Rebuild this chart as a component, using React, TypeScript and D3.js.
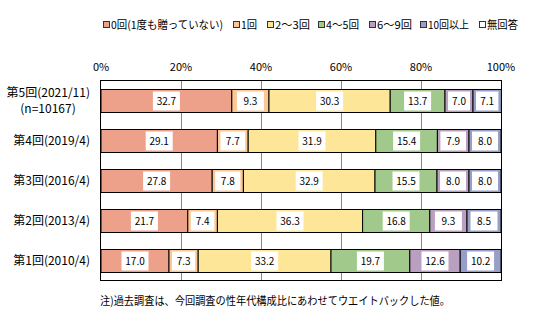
import React from "react";
import * as d3 from "d3";

const categories = ["第5回(2021/11)", "第4回(2019/4)", "第3回(2016/4)", "第2回(2013/4)", "第1回(2010/4)"];
const subLabels = ["(n=10167)", "", "", "", ""];
const seriesNames = ["0回(1度も贈っていない)", "1回", "2～3回", "4～5回", "6～9回", "10回以上", "無回答"];
const seriesColors = ["#EDA18B", "#FAC795", "#FEE698", "#A1C98B", "#BA9FC0", "#979FC9", "#FFFFFF"];
const s0 = [32.7, 29.1, 27.8, 21.7, 17.0];
const s1 = [9.3, 7.7, 7.8, 7.4, 7.3];
const s2 = [30.3, 31.9, 32.9, 36.3, 33.2];
const s3 = [13.7, 15.4, 15.5, 16.8, 19.7];
const s4 = [7.0, 7.9, 8.0, 9.3, 12.6];
const s5 = [7.1, 8.0, 8.0, 8.5, 10.2];
const s6 = [0, 0, 0, 0, 0];
const seriesValues = [s0, s1, s2, s3, s4, s5, s6];
const ticks = [0, 20, 40, 60, 80, 100];
const note = "注)過去調査は、今回調査の性年代構成比にあわせてウエイトバックした値。";

const legendX = [103, 233, 267, 318, 369, 420, 479];
const legendLen = [112, 16, 35, 33, 35, 41, 31];

const FONT = "'Noto Sans CJK JP', 'DejaVu Sans', sans-serif";

export default function App() {
  const W = 547, H = 336;
  const x = d3.scaleLinear().domain([0, 100]).range([101, 501]);
  const y = d3.scaleBand().domain(categories).range([80, 280]).paddingInner(0).paddingOuter(0);
  const barH = 23;

  const rows = categories.map((c, i) => {
    let acc = 0;
    return seriesValues.map((vals, k) => {
      const v = vals[i];
      const start = acc;
      acc += v;
      return { k, v, start, end: acc };
    });
  });

  return (
    <svg width={W} height={H} style={{ display: "block", position: "absolute", left: 0, top: 0 }} fontFamily={FONT}>
      <rect x={0} y={0} width={W} height={H} fill="#fff" />
      {/* legend */}
      {seriesNames.map((n, k) => (
        <g key={n}>
          <rect x={legendX[k] + 0.5} y={21.5} width={6} height={6} fill={seriesColors[k]} stroke="#333" strokeWidth={1} />
          <text x={legendX[k] + 8} y={28.5} fontSize={11} fill="#000" textLength={legendLen[k]} lengthAdjust="spacingAndGlyphs">{n}</text>
        </g>
      ))}
      {/* tick labels */}
      {ticks.map(t => (
        <text key={t} x={x(t)} y={71} fontSize={11} textAnchor="middle" fill="#000">{t}%</text>
      ))}
      {/* gridlines */}
      {ticks.slice(1, -1).map(t => (
        <line key={t} x1={Math.round(x(t)) + 0.5} x2={Math.round(x(t)) + 0.5} y1={80} y2={280} stroke="#888" strokeWidth={1} />
      ))}
      {/* bars */}
      {categories.map((c, i) => {
        const cy = (y(c) as number) + y.bandwidth() / 2;
        const top = Math.round(cy - barH / 2) + 0.5;
        return (
          <g key={c}>
            {rows[i].map(seg => {
              if (seg.v <= 0) return null;
              const x0 = x(seg.start), x1 = x(seg.end);
              const sw = x1 - x0;
              const bw = Math.min(27, sw - 6);
              return (
                <g key={seg.k}>
                  <rect x={x0} y={top} width={sw} height={barH} fill={seriesColors[seg.k]} stroke="#000" strokeWidth={1} />
                  <rect x={(x0 + x1) / 2 - bw / 2} y={top + 2} width={bw} height={barH - 4} fill="#fff" />
                  <text x={(x0 + x1) / 2} y={top + barH / 2 + 4} fontSize={10} textAnchor="middle" fill="#000">{seg.v.toFixed(1)}</text>
                </g>
              );
            })}
          </g>
        );
      })}
      {/* category labels */}
      {categories.map((c, i) => {
        const cy = (y(c) as number) + y.bandwidth() / 2;
        if (subLabels[i]) {
          return (
            <g key={c}>
              <text x={90} y={cy - 3} fontSize={12} textAnchor="end" fill="#000">{c}</text>
              <text x={48} y={cy + 13} fontSize={12} textAnchor="middle" fill="#000">{subLabels[i]}</text>
            </g>
          );
        }
        return <text key={c} x={90} y={cy + 4.5} fontSize={12} textAnchor="end" fill="#000">{c}</text>;
      })}
      {/* plot border */}
      <rect x={100.5} y={80.5} width={401} height={200} fill="none" stroke="#000" strokeWidth={1} />
      <text x={100} y={305} fontSize={11} fill="#000" textLength={350} lengthAdjust="spacingAndGlyphs">{note}</text>
    </svg>
  );
}
